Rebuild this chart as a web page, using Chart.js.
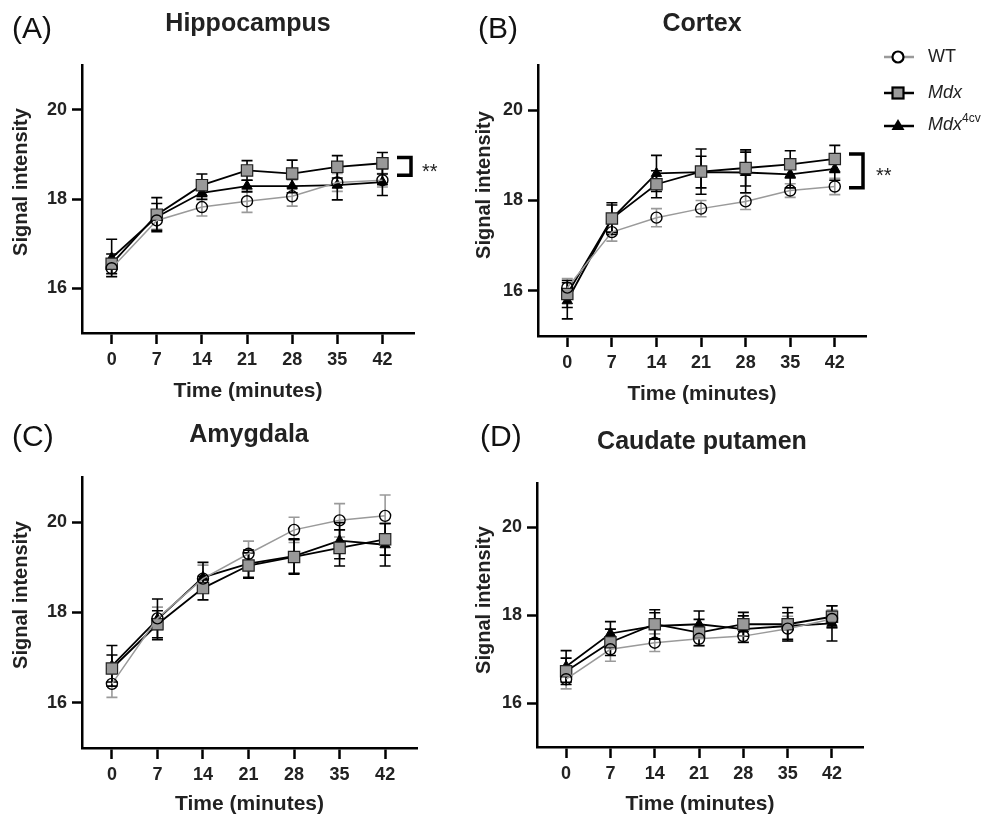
<!DOCTYPE html>
<html><head><meta charset="utf-8">
<script src="https://cdn.jsdelivr.net/npm/chart.js@4"></script>
<style>
html,body{margin:0;padding:0;background:#fff;}
#wrap{position:relative;width:995px;height:819px;overflow:hidden;font-family:"Liberation Sans",Arial,sans-serif;color:#222;}
canvas{position:absolute;left:0;top:0;}
.t{position:absolute;line-height:1;white-space:nowrap;}
.letter{font-size:30px;color:#111;}
.ttl{font-size:25px;font-weight:bold;transform:translateX(-50%);}
.ytl{font-size:20px;font-weight:bold;transform:translate(-50%,-50%) rotate(-90deg);}
.star{font-size:20px;}
.legtxt{font-size:18px;color:#222;}
.legicon{position:absolute;}
</style></head>
<body><div id="wrap">
<canvas id="cA" width="995" height="819"></canvas>
<canvas id="cB" width="995" height="819"></canvas>
<canvas id="cC" width="995" height="819"></canvas>
<canvas id="cD" width="995" height="819"></canvas>

<div class="t letter" style="left:12px;top:13px;">(A)</div>
<div class="t letter" style="left:478px;top:13px;">(B)</div>
<div class="t letter" style="left:12px;top:421px;">(C)</div>
<div class="t letter" style="left:480px;top:421px;">(D)</div>

<div class="t ttl" style="left:248px;top:10px;">Hippocampus</div>
<div class="t ttl" style="left:702px;top:10px;">Cortex</div>
<div class="t ttl" style="left:249px;top:421px;">Amygdala</div>
<div class="t ttl" style="left:702px;top:428px;">Caudate putamen</div>

<div class="t ytl" style="left:20px;top:182px;">Signal intensity</div>
<div class="t ytl" style="left:483px;top:185px;">Signal intensity</div>
<div class="t ytl" style="left:20px;top:595px;">Signal intensity</div>
<div class="t ytl" style="left:483px;top:600px;">Signal intensity</div>

<div class="t star" style="left:422px;top:161px;">**</div>
<div class="t star" style="left:876px;top:165px;">**</div>

<svg class="legicon" style="left:882px;top:47px" width="34" height="20"><line x1="2" y1="10" x2="32" y2="10" stroke="#9a9a9a" stroke-width="2.5"/><circle cx="16" cy="10" r="5.5" fill="#fff" stroke="#000" stroke-width="2.2"/></svg>
<div class="t legtxt" style="left:928px;top:47px;">WT</div>
<svg class="legicon" style="left:882px;top:83px" width="34" height="20"><line x1="2" y1="10" x2="32" y2="10" stroke="#000" stroke-width="2.5"/><rect x="10.5" y="4.5" width="11" height="11" fill="#9a9a9a" stroke="#000" stroke-width="2.2"/></svg>
<div class="t legtxt" style="left:928px;top:83px;"><i>Mdx</i></div>
<svg class="legicon" style="left:882px;top:115px" width="34" height="20"><line x1="2" y1="11" x2="32" y2="11" stroke="#000" stroke-width="2.5"/><polygon points="16,4 22.5,15 9.5,15" fill="#000"/></svg>
<div class="t legtxt" style="left:928px;top:115px;"><i>Mdx</i><span style="font-size:12px;position:relative;top:-8px;">4cv</span></div>
</div>
<script>
// ---------- data ----------
const timePoints = [0, 7, 14, 21, 28, 35, 42];
const xTicks = [0, 7, 14, 21, 28, 35, 42];
const yTicks = [16, 18, 20];
const seriesNames = ['WT', 'Mdx', 'Mdx4cv'];
const panelTitles = ['Hippocampus', 'Cortex', 'Amygdala', 'Caudate putamen'];

// (A) Hippocampus
const hippWT      = [16.45, 17.52, 17.82, 17.95, 18.06, 18.37, 18.42];
const hippWTErr   = [0.18, 0.20, 0.20, 0.25, 0.22, 0.20, 0.15];
const hippMdx     = [16.55, 17.65, 18.31, 18.64, 18.57, 18.72, 18.80];
const hippMdxErr  = [0.22, 0.38, 0.25, 0.22, 0.30, 0.25, 0.24];
const hipp4cv     = [16.68, 17.60, 18.14, 18.29, 18.29, 18.31, 18.38];
const hipp4cvErr  = [0.42, 0.30, 0.15, 0.13, 0.15, 0.33, 0.30];

// (B) Cortex
const cortWT      = [16.07, 17.30, 17.62, 17.82, 17.98, 18.22, 18.31];
const cortWTErr   = [0.20, 0.20, 0.20, 0.18, 0.18, 0.15, 0.18];
const cortMdx     = [15.93, 17.60, 18.36, 18.64, 18.72, 18.80, 18.92];
const cortMdxErr  = [0.30, 0.35, 0.30, 0.50, 0.40, 0.30, 0.30];
const cort4cv     = [15.78, 17.60, 18.60, 18.63, 18.62, 18.58, 18.70];
const cort4cvErr  = [0.40, 0.30, 0.40, 0.35, 0.45, 0.30, 0.25];

// (C) Amygdala
const amyWT       = [16.42, 17.87, 18.75, 19.30, 19.83, 20.04, 20.14];
const amyWTErr    = [0.30, 0.25, 0.30, 0.28, 0.28, 0.37, 0.46];
const amyMdx      = [16.76, 17.74, 18.54, 19.04, 19.23, 19.43, 19.62];
const amyMdxErr   = [0.30, 0.30, 0.26, 0.28, 0.38, 0.40, 0.35];
const amy4cv      = [16.82, 17.85, 18.78, 19.08, 19.25, 19.59, 19.50];
const amy4cvErr   = [0.45, 0.45, 0.33, 0.30, 0.38, 0.40, 0.47];

// (D) Caudate putamen
const caudWT      = [16.54, 17.22, 17.37, 17.46, 17.52, 17.69, 17.91];
const caudWTErr   = [0.22, 0.27, 0.20, 0.15, 0.15, 0.28, 0.20];
const caudMdx     = [16.72, 17.38, 17.79, 17.60, 17.79, 17.79, 17.96];
const caudMdxErr  = [0.30, 0.30, 0.33, 0.30, 0.27, 0.38, 0.25];
const caud4cv     = [16.83, 17.58, 17.75, 17.79, 17.68, 17.75, 17.81];
const caud4cvErr  = [0.36, 0.27, 0.30, 0.30, 0.30, 0.30, 0.40];

// significance brackets (value ranges)
const hippSig = [18.53, 18.93];
const cortSig = [18.28, 19.03];

// ---------- layout / style ----------
const W = 995, H = 819;
const X_MIN = -4.6, X_MAX = 46.9, Y_MIN = 15, Y_MAX = 21;
const AX_FS = 21, AX_LH = AX_FS * 1.2;
const FONT = '"Liberation Sans", Arial, sans-serif';
const geos = {
  A: {l: 82, t: 65, r: 414, b: 333, xTitleY: 391},
  B: {l: 538, t: 65, r: 866, b: 336, xTitleY: 394},
  C: {l: 82, t: 477, r: 417, b: 748, xTitleY: 804.5},
  D: {l: 537, t: 483, r: 863, b: 747, xTitleY: 804.5}
};

function pts(vals) { return vals.map((v, i) => ({x: timePoints[i], y: v})); }

const errPlugin = {
  id: 'errBars',
  beforeDatasetsDraw(chart) {
    const {ctx, scales: {x, y}} = chart;
    chart.data.datasets.forEach(ds => {
      ctx.save();
      ctx.strokeStyle = ds.errColor;
      ctx.lineWidth = 1.6;
      ds.data.forEach((p, j) => {
        const e = ds.errors[j];
        const px = x.getPixelForValue(p.x);
        const y1 = y.getPixelForValue(p.y + e), y2 = y.getPixelForValue(p.y - e);
        ctx.beginPath();
        ctx.moveTo(px, y1); ctx.lineTo(px, y2);
        ctx.moveTo(px - 5.5, y1); ctx.lineTo(px + 5.5, y1);
        ctx.moveTo(px - 5.5, y2); ctx.lineTo(px + 5.5, y2);
        ctx.stroke();
      });
      ctx.restore();
    });
  }
};

function bracketPlugin(range) {
  return {
    id: 'bracket',
    afterDraw(chart) {
      if (!range) return;
      const {ctx, scales: {x, y}} = chart;
      const xr = x.getPixelForValue(X_MAX) - 3;
      const y1 = y.getPixelForValue(range[1]), y2 = y.getPixelForValue(range[0]);
      ctx.save();
      ctx.strokeStyle = '#000'; ctx.lineWidth = 3.5; ctx.lineJoin = 'miter';
      ctx.beginPath();
      ctx.moveTo(xr - 14, y1); ctx.lineTo(xr, y1); ctx.lineTo(xr, y2); ctx.lineTo(xr - 14, y2);
      ctx.stroke();
      ctx.restore();
    }
  };
}

function makeChart(id, geo, wt, wtE, mdx, mdxE, cv, cvE, sig) {
  const half = AX_LH / 2;
  const yW = 50;
  const padLeft = geo.l - yW;
  const xBottom = geo.xTitleY + half;
  const xH = xBottom - geo.b;
  const padBottom = H - xBottom;
  const tickFont = {family: FONT, size: 18, weight: 'bold'};
  const titleFont = {family: FONT, size: AX_FS, weight: 'bold', lineHeight: 1.2};
  const gridCfg = {display: true, drawOnChartArea: false, drawTicks: true, tickLength: 10, tickWidth: 2.5, tickColor: '#000'};
  return new Chart(document.getElementById(id), {
    type: 'line',
    data: {
      datasets: [
        {label: seriesNames[0], data: pts(wt), errors: wtE, errColor: '#9a9a9a',
         borderColor: '#9a9a9a', borderWidth: 1.5, pointStyle: 'circle', pointRadius: 5.5,
         pointBorderColor: '#000', pointBorderWidth: 1.4, pointBackgroundColor: 'rgba(0,0,0,0)'},
        {label: seriesNames[1], data: pts(mdx), errors: mdxE, errColor: '#000',
         borderColor: '#000', borderWidth: 1.8, pointStyle: 'rect', pointRadius: 8,
         pointBorderColor: '#222', pointBorderWidth: 1.2, pointBackgroundColor: '#999'},
        {label: seriesNames[2], data: pts(cv), errors: cvE, errColor: '#000',
         borderColor: '#000', borderWidth: 1.8, pointStyle: 'triangle', pointRadius: 6,
         pointBorderColor: '#000', pointBorderWidth: 1, pointBackgroundColor: '#000'}
      ]
    },
    options: {
      responsive: false, animation: false, devicePixelRatio: 1,
      layout: {padding: {left: padLeft, top: geo.t, right: W - geo.r, bottom: padBottom}},
      elements: {line: {tension: 0}},
      plugins: {legend: {display: false}, tooltip: {enabled: false}},
      scales: {
        x: {
          type: 'linear', min: X_MIN, max: X_MAX,
          afterBuildTicks: s => { s.ticks = xTicks.map(v => ({value: v})); },
          afterFit: s => { s.height = xH; },
          grid: Object.assign({}, gridCfg, {tickLength: 11}),
          border: {display: true, color: '#000', width: 2.5},
          ticks: {font: tickFont, color: '#222', padding: 5, maxRotation: 0, callback: v => String(v)},
          title: {display: true, text: 'Time (minutes)', font: titleFont, color: '#222', padding: {top: 0, bottom: 0}}
        },
        y: {
          type: 'linear', min: Y_MIN, max: Y_MAX,
          afterBuildTicks: s => { s.ticks = yTicks.map(v => ({value: v})); },
          afterFit: s => { s.width = yW; },
          grid: gridCfg,
          border: {display: true, color: '#000', width: 2.5},
          ticks: {font: tickFont, color: '#222', padding: 5, callback: v => String(v)},
          title: {display: false}
        }
      }
    },
    plugins: [errPlugin, bracketPlugin(sig)]
  });
}

makeChart('cA', geos.A, hippWT, hippWTErr, hippMdx, hippMdxErr, hipp4cv, hipp4cvErr, hippSig);
makeChart('cB', geos.B, cortWT, cortWTErr, cortMdx, cortMdxErr, cort4cv, cort4cvErr, cortSig);
makeChart('cC', geos.C, amyWT, amyWTErr, amyMdx, amyMdxErr, amy4cv, amy4cvErr, null);
makeChart('cD', geos.D, caudWT, caudWTErr, caudMdx, caudMdxErr, caud4cv, caud4cvErr, null);
</script>
</body></html>
